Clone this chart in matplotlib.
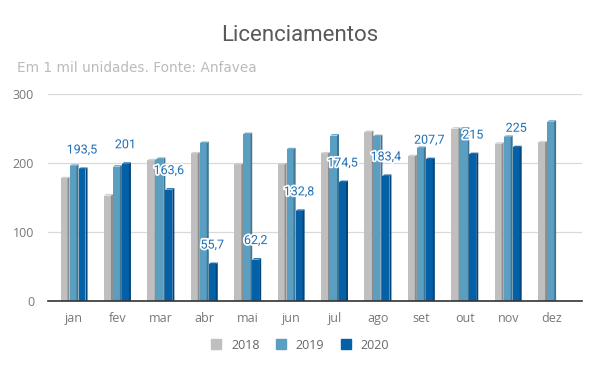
import matplotlib
matplotlib.use("Agg")
import matplotlib.pyplot as plt
from matplotlib.patches import Polygon
from matplotlib.lines import Line2D
import matplotlib.patheffects as pe
import numpy as np

months = ["jan", "fev", "mar", "abr", "mai", "jun", "jul", "ago", "set", "out", "nov", "dez"]
v2018 = [180, 155, 206, 216, 200, 200, 216, 247, 212, 252, 230, 232]
v2019 = [198, 197, 208, 231, 244, 222, 242, 241, 224, 252, 240, 262]
v2020 = [193.5, 201, 163.6, 55.7, 62.2, 132.8, 174.5, 183.4, 207.7, 215, 225, None]
labels2020 = ["193,5", "201", "163,6", "55,7", "62,2", "132,8", "174,5", "183,4", "207,7", "215", "225", None]
years = ["2018", "2019", "2020"]

front = ["#bfbfbf", "#5a9ec2", "#0461a8"]
side = ["#8c8c8c", "#3f7592", "#02457a"]
topc = ["#cfcfcf", "#6aa9ca", "#1a6db3"]

fig = plt.figure(figsize=(6, 3.71), dpi=100)
ax = fig.add_axes([0.08, 0.1887, 0.89, 0.558])

pitch = 0.207
wf = 0.16
ws = pitch - wf
dh = 2.2
x = np.arange(len(months))

for i, vals in enumerate([v2018, v2019, v2020]):
    for j, v in enumerate(vals):
        if v is None:
            continue
        x0 = x[j] + (i - 1) * pitch - pitch / 2
        top = v - dh
        ax.bar(x0, top, width=wf, align="edge", color=front[i], zorder=3, linewidth=0)
        ax.add_patch(Polygon([(x0 + wf, 0), (x0 + pitch, 0), (x0 + pitch, v), (x0 + wf, top)],
                             closed=True, facecolor=side[i], edgecolor="none", zorder=3))
        ax.add_patch(Polygon([(x0, top), (x0 + wf, top), (x0 + pitch, v), (x0 + ws, v)],
                             closed=True, facecolor=topc[i], edgecolor="none", zorder=3))

for j, (v, lab) in enumerate(zip(v2020, labels2020)):
    if v is None:
        continue
    xc = x[j] + pitch - pitch / 2 + wf / 2
    ax.annotate(lab, (xc, v), xytext=(0, 17.5), textcoords="offset pixels",
                ha="center", va="center", fontsize=9, color="#1f6fb5", family="Roboto",
                path_effects=[pe.withStroke(linewidth=2.5, foreground="white")], zorder=5)

ax.set_xlim(-0.6, 11.7)
ax.set_ylim(0, 300)
ax.set_yticks([0, 100, 200, 300])
ax.yaxis.grid(True, color="#d9d9d9", linewidth=0.9, zorder=0)
ax.set_axisbelow(True)
for s in ["top", "right", "left"]:
    ax.spines[s].set_visible(False)
ax.spines["bottom"].set_color("#333333")
ax.spines["bottom"].set_linewidth(1.2)
ax.spines["bottom"].set_zorder(4)
ax.set_xticks(x)
ax.set_xticklabels(months)
ax.tick_params(axis="both", length=0, labelsize=9, colors="#777777", pad=8)
ax.tick_params(axis="y", pad=10)
for t in ax.get_xticklabels() + ax.get_yticklabels():
    t.set_family("Open Sans")

fig.text(0.5, 0.905, "Licenciamentos", ha="center", va="center", fontsize=16, color="#595959", family="Roboto")
fig.text(0.028, 0.818, "Em 1 mil unidades. Fonte: Anfavea", ha="left", va="center", fontsize=9.8,
         color="#bbbbbb", family="DejaVu Sans")

handles = [Line2D([], [], marker="s", linestyle="none", markersize=7, markerfacecolor=front[i],
                  markeredgecolor=front[i]) for i in range(3)]
leg = fig.legend(handles, years, loc="center", bbox_to_anchor=(0.5, 0.07), ncol=3, frameon=False,
                 fontsize=9, handlelength=0.8, handletextpad=0.8, columnspacing=1.3)
for t in leg.get_texts():
    t.set_color("#666666")
    t.set_family("Open Sans")

fig.savefig("out.png", dpi=100)
